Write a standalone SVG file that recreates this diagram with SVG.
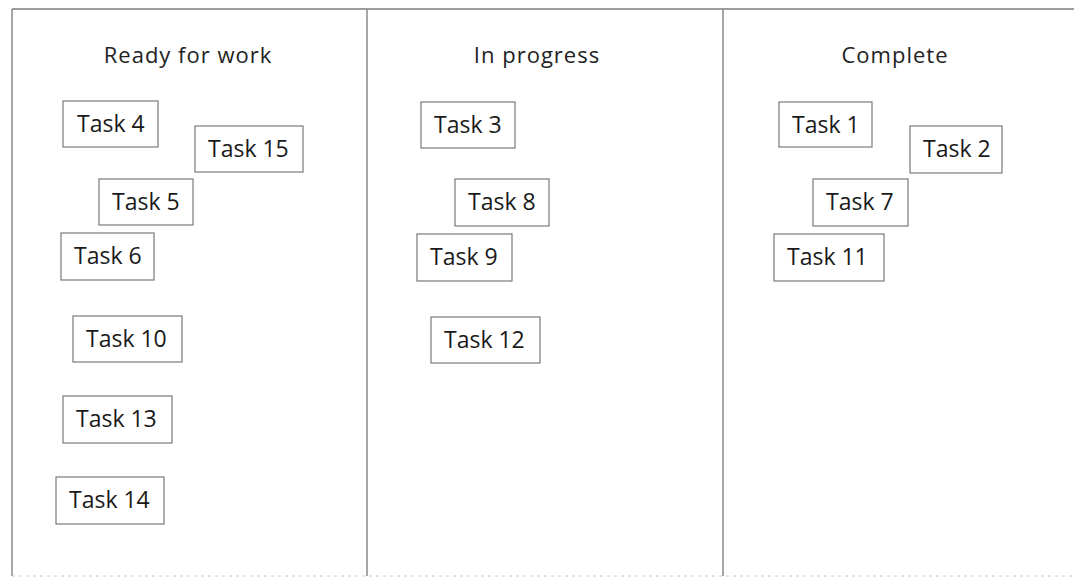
<svg xmlns="http://www.w3.org/2000/svg" width="1074" height="579" viewBox="0 0 1074 579">
  <style>
    .frame { stroke: #8a8a8a; stroke-width: 1.5; fill: none; }
    .topline { stroke: #3a3a3a; stroke-width: 1.2; fill: none; }
    .bottom { stroke: #c8c8c8; stroke-width: 1; stroke-dasharray: 3 4; fill: none; }
    .card rect { fill: #ffffff; stroke: #7a7a7a; stroke-width: 1.2; }
    .card text { font-family: "Open Sans", Lato, "Liberation Sans", sans-serif; font-size: 23px; font-weight: 500; fill: #1a1a1a; }
    .head { font-family: "Open Sans", Lato, "Liberation Sans", sans-serif; font-size: 22px; letter-spacing: 1px; fill: #222222; text-anchor: middle; }
  </style>
  <rect width="1074" height="579" fill="#ffffff"/>

  <!-- board frame: columns of the board -->
  <g id="board">
    <line class="topline" x1="12" y1="9" x2="1074" y2="9"/>
    <line class="frame" x1="12" y1="9" x2="12" y2="576"/>
    <line class="frame" x1="367" y1="9" x2="367" y2="576"/>
    <line class="frame" x1="723" y1="9" x2="723" y2="576"/>
    <line class="bottom" x1="12" y1="576" x2="1074" y2="576"/>
  </g>

  <!-- column headings -->
  <g id="headings">
    <text class="head" x="188" y="63">Ready for work</text>
    <text class="head" x="537" y="63">In progress</text>
    <text class="head" x="895" y="63">Complete</text>
  </g>

  <!-- no links between cards -->
  <g id="connectors"></g>

  <!-- Ready for work -->
  <g id="task4" class="card"><rect x="63" y="101" width="95" height="46"/><text x="77" y="132">Task 4</text></g>
  <g id="task15" class="card"><rect x="195" y="126" width="108" height="46"/><text x="208" y="157">Task 15</text></g>
  <g id="task5" class="card"><rect x="99" y="179" width="94" height="46"/><text x="112" y="210">Task 5</text></g>
  <g id="task6" class="card"><rect x="61" y="233" width="93" height="47"/><text x="74" y="264">Task 6</text></g>
  <g id="task10" class="card"><rect x="73" y="316" width="109" height="46"/><text x="86" y="347">Task 10</text></g>
  <g id="task13" class="card"><rect x="63" y="396" width="109" height="47"/><text x="76" y="427">Task 13</text></g>
  <g id="task14" class="card"><rect x="56" y="477" width="108" height="47"/><text x="69" y="508">Task 14</text></g>

  <!-- In progress -->
  <g id="task3" class="card"><rect x="421" y="102" width="94" height="46"/><text x="434" y="133">Task 3</text></g>
  <g id="task8" class="card"><rect x="455" y="179" width="94" height="47"/><text x="468" y="210">Task 8</text></g>
  <g id="task9" class="card"><rect x="417" y="234" width="95" height="47"/><text x="430" y="265">Task 9</text></g>
  <g id="task12" class="card"><rect x="431" y="317" width="109" height="46"/><text x="444" y="348">Task 12</text></g>

  <!-- Complete -->
  <g id="task1" class="card"><rect x="779" y="102" width="93" height="45"/><text x="792" y="133">Task 1</text></g>
  <g id="task2" class="card"><rect x="910" y="126" width="92" height="47"/><text x="923" y="157">Task 2</text></g>
  <g id="task7" class="card"><rect x="813" y="179" width="95" height="47"/><text x="826" y="210">Task 7</text></g>
  <g id="task11" class="card"><rect x="774" y="234" width="110" height="47"/><text x="787" y="265">Task 11</text></g>
</svg>
